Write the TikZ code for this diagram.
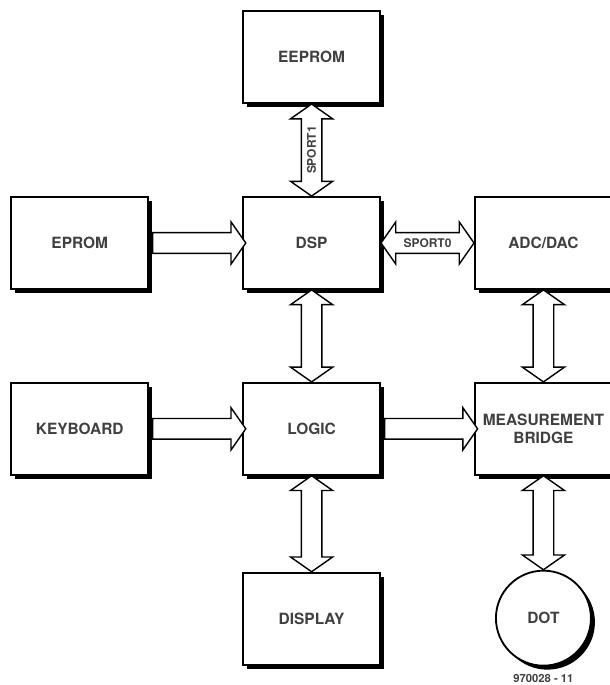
\documentclass[tikz,border=0pt]{standalone}
\usepackage{fontspec}
\setmainfont{TeX Gyre Heros}
\usetikzlibrary{positioning,calc,shapes.arrows,shadows}

\tikzset{
  block/.style={draw, fill=white, line width=1.3pt,
    minimum width=3.425cm, minimum height=2.3cm, align=center,
    font=\fontsize{11}{13}\selectfont\bfseries, text=black!75,
    drop shadow={shadow xshift=0.1cm, shadow yshift=-0.1cm, fill=black, opacity=1}},
  bus/.style={draw, fill=white, line width=1pt, inner xsep=0pt, inner ysep=0.24cm},
  onearrow/.style={bus, single arrow, single arrow head extend=0.27cm,
    single arrow tip angle=110},
  twoarrow/.style={bus, double arrow, double arrow head extend=0.27cm,
    double arrow tip angle=110},
  portname/.style={font=\fontsize{8.5}{10}\selectfont\bfseries, text=black!75, inner sep=0pt},
}

\begin{document}
\begin{tikzpicture}[node distance=2.3cm and 2.325cm]
  \useasboundingbox (-7.79,-11.05) rectangle (7.44,6.075);

  % blocks
  \node[block] (dsp) {DSP};
  \node[block, above=of dsp] (eeprom) {EEPROM};
  \node[block, left=of dsp] (eprom) {EPROM};
  \node[block, right=of dsp] (adc) {ADC/DAC};
  \node[block, below=of dsp] (logic) {LOGIC};
  \node[block, left=of logic] (keyboard) {KEYBOARD};
  \node[block, right=of logic] (bridge) {MEASUREMENT\\BRIDGE};
  \node[block, below=2.4cm of logic] (display) {DISPLAY};
  \node[block, circle, minimum size=2.375cm, below=2.35cm of bridge] (dot) {DOT};
  \node[below=0.2cm of dot, inner sep=0pt, font=\fontsize{8}{9}\selectfont\bfseries,
    text=black!75] (figno) {970028 - 11};

  % buses
  \path let \p1=(eeprom.south), \p2=(dsp.north) in
    node[twoarrow, rotate=90, minimum height={\y1-(\y2)}] (sport1) at ($(\p1)!.5!(\p2)$) {};
  \node[portname, rotate=90] at (sport1) {SPORT1};
  \path let \p1=(dsp.east), \p2=(adc.west) in
    node[twoarrow, minimum height={\x2-(\x1)}] (sport0) at ($(\p1)!.5!(\p2)$) {};
  \node[portname] at (sport0) {SPORT0};
  \path let \p1=(eprom.east), \p2=(dsp.west) in
    node[onearrow, minimum height={\x2-(\x1)}] at ($(\p1)!.5!(\p2)$) {};
  \path let \p1=(keyboard.east), \p2=(logic.west) in
    node[onearrow, minimum height={\x2-(\x1)}] at ($(\p1)!.5!(\p2)$) {};
  \path let \p1=(logic.east), \p2=(bridge.west) in
    node[onearrow, minimum height={\x2-(\x1)}] at ($(\p1)!.5!(\p2)$) {};
  \path let \p1=(dsp.south), \p2=(logic.north) in
    node[twoarrow, rotate=90, minimum height={\y1-(\y2)}] at ($(\p1)!.5!(\p2)$) {};
  \path let \p1=(logic.south), \p2=(display.north) in
    node[twoarrow, rotate=90, minimum height={\y1-(\y2)}] at ($(\p1)!.5!(\p2)$) {};
  \path let \p1=(adc.south), \p2=(bridge.north) in
    node[twoarrow, rotate=90, minimum height={\y1-(\y2)}] at ($(\p1)!.5!(\p2)$) {};
  \path let \p1=(bridge.south), \p2=(dot.north) in
    node[twoarrow, rotate=90, minimum height={\y1-(\y2)}] at ($(\p1)!.5!(\p2)$) {};
\end{tikzpicture}
\end{document}
